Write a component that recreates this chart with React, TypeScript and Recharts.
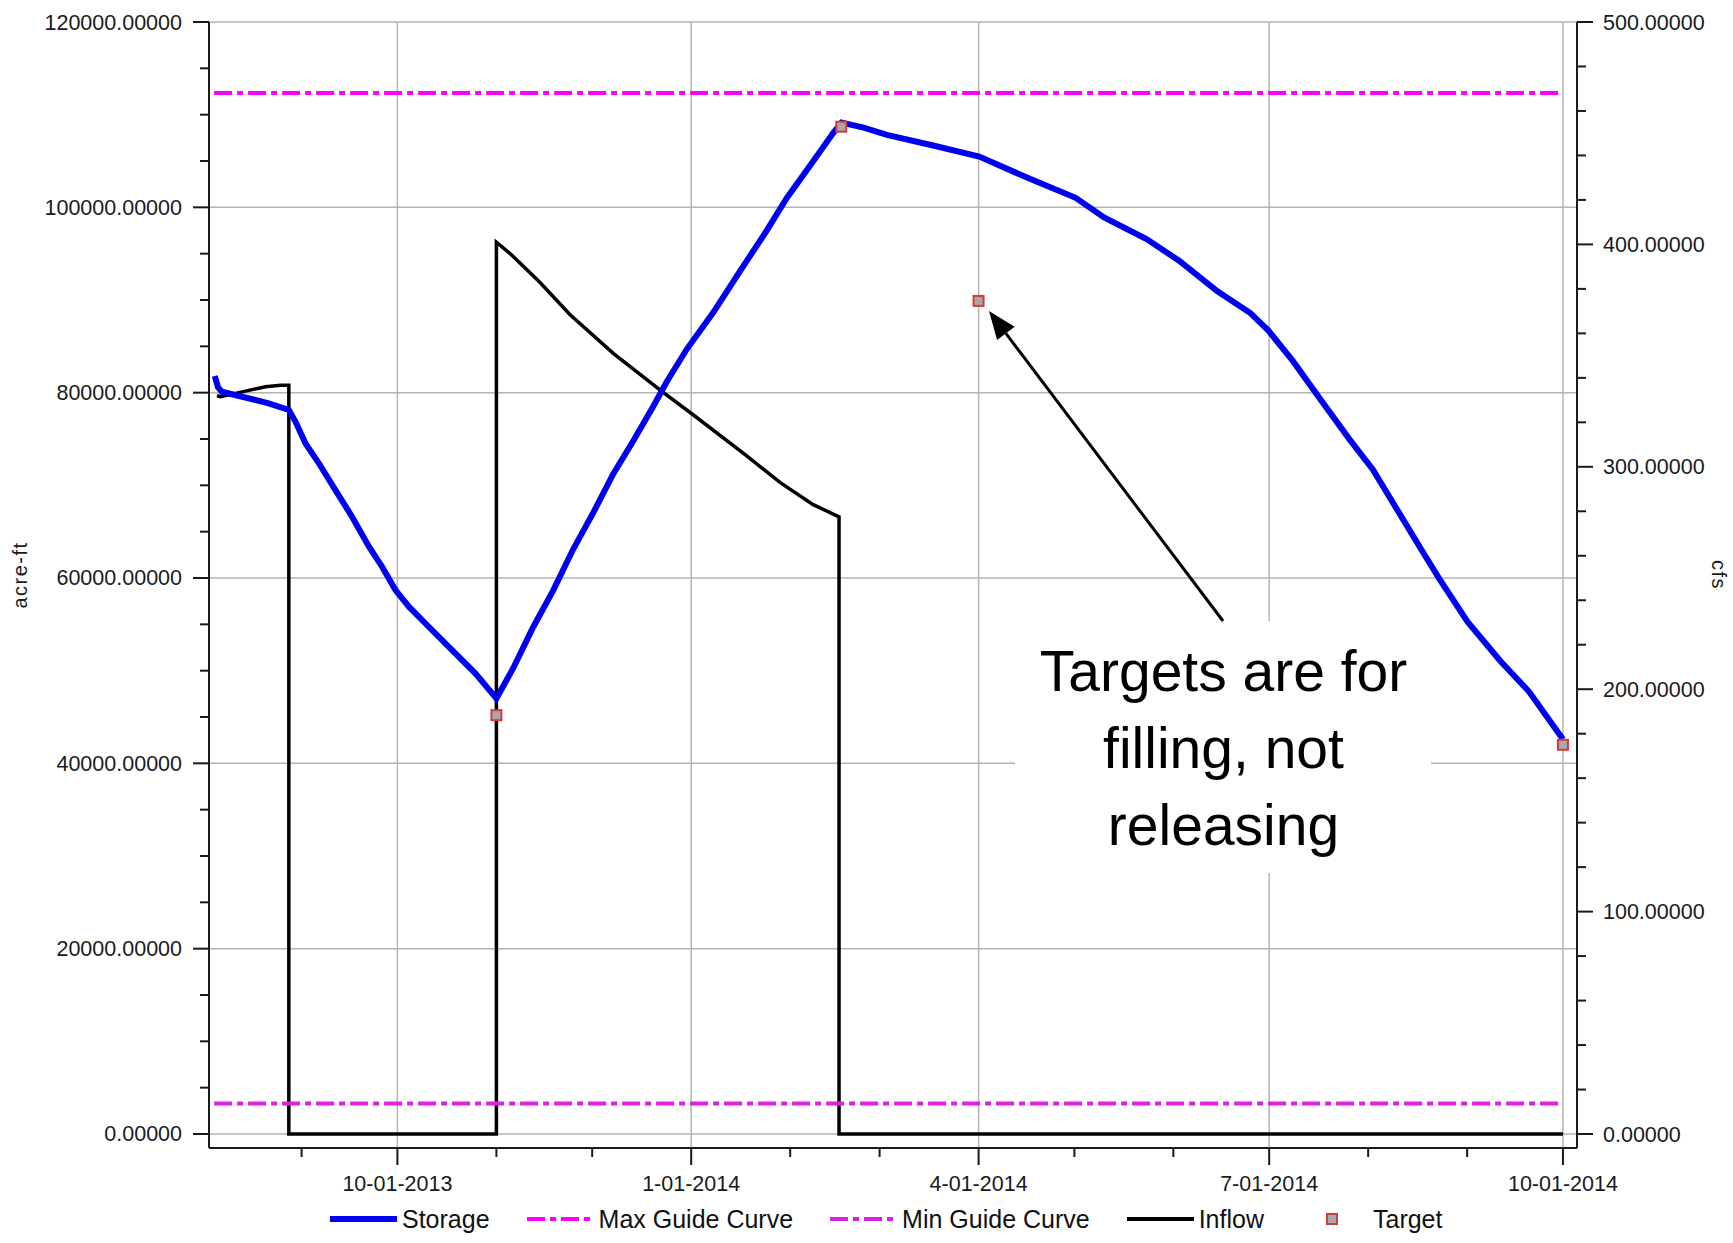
import React from "react";
import {
  ComposedChart,
  Line,
  Scatter,
  XAxis,
  YAxis,
  CartesianGrid,
} from "recharts";

// x values are days counted from 10-01-2013
const storage: [number, number][] = [
  [-57.2, 81800], [-56.2, 80600], [-55.0, 80100], [-48.6, 79560], [-40.3, 78850],
  [-34.0, 78130], [-31.9, 76860], [-28.8, 74530], [-24.6, 72380], [-19.4, 69490],
  [-14.2, 66610], [-8.9, 63380], [-4.8, 61220], [-0.6, 58700], [3.6, 56900],
  [9.8, 54740], [16.1, 52580], [24.4, 49710], [31.0, 47000], [36.3, 50290],
  [42.5, 54690], [48.8, 58660], [55.0, 63070], [61.3, 67030], [67.6, 71230],
  [73.8, 74760], [80.1, 78510], [84.3, 81150], [90.6, 84680], [98.9, 88650],
  [107.2, 93060], [115.6, 97460], [121.9, 100990], [130.2, 104960], [136.5, 108050],
  [139.1, 109150], [146.0, 108600], [153.3, 107820], [168.1, 106650], [182.2, 105480],
  [197.7, 103130], [212.4, 101030], [221.3, 98910], [234.6, 96570], [244.9, 94220],
  [256.8, 90940], [267.1, 88590], [272.7, 86720], [280.4, 83430], [289.2, 79210],
  [298.1, 74990], [305.5, 71700], [312.9, 67480], [320.3, 63260], [326.2, 59970],
  [335.1, 55280], [345.4, 51050], [354.3, 47770], [365.0, 42600],
];

const inflow: [number, number][] = [
  [-56.5, 332], [-55.4, 331.5], [-48.6, 333.7], [-41.3, 336], [-36.6, 336.7],
  [-34.0, 336.7], [-34.0, 0], [31.0, 0], [31.0, 401], [35.2, 396],
  [44.6, 383], [54.0, 368.5], [67.6, 351], [82.7, 334], [92.6, 323.4],
  [109.3, 305], [119.8, 293], [130.2, 283], [138.3, 277.5], [138.3, 0],
  [365.0, 0],
];

const maxGuide: [number, number][] = [[-57.4, 112350], [365.0, 112350]];
const minGuide: [number, number][] = [[-57.4, 3300], [365.0, 3300]];
const targets: [number, number][] = [[31, 45200], [139, 108700], [182, 89900], [365, 42000]];

const monthTicks = [-30, 0, 31, 61, 92, 123, 151, 182, 212, 243, 273, 304, 335, 365];
const dateLabels: Record<number, string> = {
  0: "10-01-2013",
  92: "1-01-2014",
  182: "4-01-2014",
  273: "7-01-2014",
  365: "10-01-2014",
};
const majorX = [0, 92, 182, 273, 365];

const leftMajor = [0, 20000, 40000, 60000, 80000, 100000, 120000];
const leftTicks = Array.from({ length: 25 }, (_, i) => i * 5000);
const rightTicks = Array.from({ length: 26 }, (_, i) => i * 20);

const toRows = (pts: [number, number][]) => pts.map(([day, value]) => ({ day, value }));

const FONT = '"Liberation Sans", Arial, sans-serif';
const INK = "#1a1a1a";

function BottomTick({ x, y, payload }: any) {
  const label = dateLabels[payload.value];
  return (
    <g>
      <line x1={x} y1={y} x2={x} y2={y + (label ? 17 : 9)} stroke={INK} strokeWidth={2} />
      {label && (
        <text x={x} y={y + 43} textAnchor="middle" fontSize={21.5} fontFamily={FONT} fill={INK}>
          {label}
        </text>
      )}
    </g>
  );
}

function LeftTick({ x, y, payload }: any) {
  const major = payload.value % 20000 === 0;
  return (
    <g>
      <line x1={x - (major ? 16 : 9)} y1={y} x2={x} y2={y} stroke={INK} strokeWidth={2} />
      {major && (
        <text x={x - 27} y={y + 7.5} textAnchor="end" fontSize={21.5} fontFamily={FONT} fill={INK}>
          {payload.value.toFixed(5)}
        </text>
      )}
    </g>
  );
}

function RightTick({ x, y, payload }: any) {
  const major = payload.value % 100 === 0;
  return (
    <g>
      <line x1={x} y1={y} x2={x + (major ? 16 : 9)} y2={y} stroke={INK} strokeWidth={2} />
      {major && (
        <text x={x + 26} y={y + 7.5} textAnchor="start" fontSize={21.5} fontFamily={FONT} fill={INK}>
          {payload.value.toFixed(5)}
        </text>
      )}
    </g>
  );
}

function TargetSquare({ cx, cy }: any) {
  return <rect x={cx - 5} y={cy - 5} width={10} height={10} fill="#a8a8a8" stroke="#d43a3a" strokeWidth={2} />;
}

const legendItems = [
  { name: "Storage", kind: "line", color: "#0000ff", width: 6, dash: undefined },
  { name: "Max Guide Curve", kind: "line", color: "#ff00ff", width: 4, dash: "18 5 6 5" },
  { name: "Min Guide Curve", kind: "line", color: "#e020e0", width: 4, dash: "18 5 6 5" },
  { name: "Inflow", kind: "line", color: "#000000", width: 4, dash: undefined },
  { name: "Target", kind: "marker", color: "#d43a3a", width: 2, dash: undefined },
];

function ChartLegend() {
  return (
    <div
      style={{
        position: "absolute",
        left: 330,
        top: 1204,
        height: 30,
        display: "flex",
        alignItems: "center",
        gap: 37,
        fontFamily: FONT,
        fontSize: 25,
        color: "#111",
        whiteSpace: "nowrap",
      }}
    >
      {legendItems.map((it) => (
        <div key={it.name} style={{ display: "flex", alignItems: "center", gap: 5 }}>
          <svg width={67} height={14}>
            {it.kind === "line" ? (
              <line x1={0} y1={7} x2={67} y2={7} stroke={it.color} strokeWidth={it.width} strokeDasharray={it.dash} />
            ) : (
              <rect x={26} y={2} width={10} height={10} fill="#a8a8a8" stroke={it.color} strokeWidth={2} />
            )}
          </svg>
          <span>{it.name}</span>
        </div>
      ))}
    </div>
  );
}

function Annotation() {
  const tail = { x: 1223, y: 621 };
  const tip = { x: 989, y: 311 };
  const dx = tip.x - tail.x;
  const dy = tip.y - tail.y;
  const len = Math.hypot(dx, dy);
  const ux = dx / len;
  const uy = dy / len;
  const bx = tip.x - 28 * ux;
  const by = tip.y - 28 * uy;
  const nx = -uy;
  const ny = ux;
  const head = `${tip.x},${tip.y} ${bx + 11 * nx},${by + 11 * ny} ${bx - 11 * nx},${by - 11 * ny}`;
  return (
    <svg width={1733} height={1243} style={{ position: "absolute", left: 0, top: 0, pointerEvents: "none" }}>
      <rect x={1015} y={621} width={416} height={252} fill="#ffffff" />
      <line x1={tail.x} y1={tail.y} x2={bx} y2={by} stroke="#000" strokeWidth={3} />
      <polygon points={head} fill="#000" />
      <g fontFamily={FONT} fontSize={57} fill="#000" textAnchor="middle">
        <text x={1223.5} y={690.7}>Targets are for</text>
        <text x={1223.5} y={768.3}>filling, not</text>
        <text x={1223.5} y={845}>releasing</text>
      </g>
      <text
        x={27}
        y={575}
        transform="rotate(-90 27 575)"
        textAnchor="middle"
        fontFamily={FONT}
        fontSize={20}
        letterSpacing={1.5}
        fill={INK}
      >
        acre-ft
      </text>
      <text
        x={1712}
        y={575}
        transform="rotate(90 1712 575)"
        textAnchor="middle"
        fontFamily={FONT}
        fontSize={20}
        letterSpacing={1.5}
        fill={INK}
      >
        cfs
      </text>
    </svg>
  );
}

export default function App() {
  return (
    <div style={{ position: "absolute", left: 0, top: 0, width: 1733, height: 1243, background: "#fff" }}>
      <ComposedChart width={1733} height={1243} margin={{ top: 22, right: 0, bottom: 0, left: 0 }}>
        <CartesianGrid
          xAxisId="x"
          yAxisId="left"
          horizontalValues={leftMajor}
          verticalValues={majorX}
          stroke="#b4b4b4"
          strokeWidth={1.5}
        />
        <XAxis
          xAxisId="x"
          type="number"
          dataKey="day"
          domain={[-59, 369.4]}
          allowDataOverflow
          ticks={monthTicks}
          interval={0}
          height={95}
          tickLine={false}
          tickSize={0}
          tickMargin={0}
          axisLine={{ stroke: INK, strokeWidth: 2 }}
          tick={(p: any) => <BottomTick {...p} />}
        />
        <YAxis
          yAxisId="left"
          orientation="left"
          type="number"
          width={209}
          domain={[-1510.8, 120000]}
          allowDataOverflow
          ticks={leftTicks}
          interval={0}
          tickLine={false}
          tickSize={0}
          tickMargin={0}
          axisLine={{ stroke: INK, strokeWidth: 2 }}
          tick={(p: any) => <LeftTick {...p} />}
        />
        <YAxis
          yAxisId="right"
          orientation="right"
          type="number"
          width={156}
          domain={[-6.29, 500]}
          allowDataOverflow
          ticks={rightTicks}
          interval={0}
          tickLine={false}
          tickSize={0}
          tickMargin={0}
          axisLine={{ stroke: INK, strokeWidth: 2 }}
          tick={(p: any) => <RightTick {...p} />}
        />
        <Line
          xAxisId="x"
          yAxisId="right"
          data={toRows(inflow)}
          dataKey="value"
          name="Inflow"
          type="linear"
          stroke="#000000"
          strokeWidth={3.5}
          dot={false}
          activeDot={false}
          isAnimationActive={false}
        />
        <Line
          xAxisId="x"
          yAxisId="left"
          data={toRows(storage)}
          dataKey="value"
          name="Storage"
          type="linear"
          stroke="#0000f0"
          strokeWidth={6}
          dot={false}
          activeDot={false}
          isAnimationActive={false}
        />
        <Line
          xAxisId="x"
          yAxisId="left"
          data={toRows(maxGuide)}
          dataKey="value"
          name="Max Guide Curve"
          type="linear"
          stroke="#ff00ff"
          strokeWidth={4}
          strokeDasharray="18 5 6 5"
          dot={false}
          activeDot={false}
          isAnimationActive={false}
        />
        <Line
          xAxisId="x"
          yAxisId="left"
          data={toRows(minGuide)}
          dataKey="value"
          name="Min Guide Curve"
          type="linear"
          stroke="#e020e0"
          strokeWidth={4}
          strokeDasharray="18 5 6 5"
          dot={false}
          activeDot={false}
          isAnimationActive={false}
        />
        <Scatter
          xAxisId="x"
          yAxisId="left"
          data={toRows(targets)}
          dataKey="value"
          name="Target"
          shape={(p: any) => <TargetSquare {...p} />}
          isAnimationActive={false}
        />
      </ComposedChart>
      <Annotation />
      <ChartLegend />
    </div>
  );
}
